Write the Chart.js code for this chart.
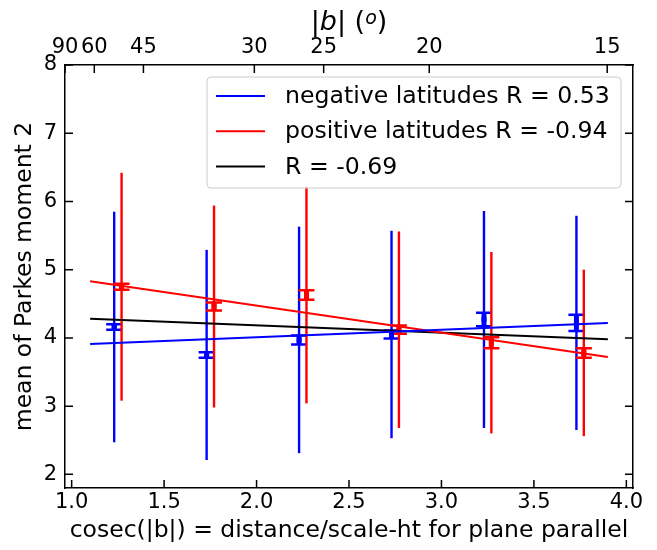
<!DOCTYPE html>
<html>
<head>
<meta charset="utf-8">
<script src="https://cdn.jsdelivr.net/npm/chart.js@4.4.0/dist/chart.umd.min.js"></script>
<style>
  html, body { margin: 0; padding: 0; background: #fff; }
</style>
</head>
<body>
<canvas id="chart" width="657" height="550"></canvas>
<script>
// negative latitudes: positions, means, spread (thin bar) and error of mean (thick bar)
const negX = [1.23, 1.73, 2.23, 2.73, 3.23, 3.73];
const negMean = [4.16, 3.75, 3.97, 4.05, 4.27, 4.22];
const negStd = [1.69, 1.54, 1.66, 1.52, 1.59, 1.57];
const negSem = [0.04, 0.04, 0.065, 0.06, 0.1, 0.12];

// positive latitudes
const posX = [1.27, 1.77, 2.27, 2.77, 3.27, 3.77];
const posMean = [4.75, 4.46, 4.63, 4.12, 3.93, 3.78];
const posStd = [1.67, 1.48, 1.59, 1.44, 1.33, 1.22];
const posSem = [0.045, 0.06, 0.07, 0.06, 0.08, 0.07];

// fit lines
const fitX = [1.1, 3.9];
const negFit = [3.91, 4.22];
const posFit = [4.83, 3.72];
const allFit = [4.28, 3.98];

const legendLabels = ['negative latitudes R = 0.53', 'positive latitudes R = -0.94', 'R = -0.69'];

// ticks
const xTicks = [1.0, 1.5, 2.0, 2.5, 3.0, 3.5, 4.0];
const yTicks = [2, 3, 4, 5, 6, 7, 8];
const topDegrees = [90, 60, 45, 30, 25, 20, 15];

const FONT = 'DejaVu Sans';
const BLUE = 'rgb(0, 0, 255)';
const RED = 'rgb(255, 0, 0)';
const BLACK = 'rgb(0, 0, 0)';

function pts(xs, ys) {
  return xs.map((x, i) => ({ x: x, y: ys[i] }));
}

// error bars: thin = spread, thick with caps = error of mean
const errorBars = {
  id: 'errorBars',
  beforeDatasetsDraw(chart) {
    const c = chart.ctx;
    const xs = chart.scales.x, ys = chart.scales.y;
    chart.data.datasets.forEach(ds => {
      if (!ds.errStd) return;
      c.save();
      c.strokeStyle = ds.backgroundColor;
      ds.data.forEach((p, i) => {
        const px = xs.getPixelForValue(p.x);
        // thin
        c.lineWidth = 2.4;
        c.beginPath();
        c.moveTo(px, ys.getPixelForValue(p.y + ds.errStd[i]));
        c.lineTo(px, ys.getPixelForValue(p.y - ds.errStd[i]));
        c.stroke();
        // thick
        const t = ys.getPixelForValue(p.y + ds.errSem[i]);
        const b = ys.getPixelForValue(p.y - ds.errSem[i]);
        c.lineWidth = 5;
        c.beginPath();
        c.moveTo(px, t);
        c.lineTo(px, b);
        c.stroke();
        c.lineWidth = 2.5;
        c.beginPath();
        c.moveTo(px - 8, t); c.lineTo(px + 8, t);
        c.moveTo(px - 8, b); c.lineTo(px + 8, b);
        c.stroke();
      });
      c.restore();
    });
  }
};

// inward tick marks on all four sides
const tickMarks = {
  id: 'tickMarks',
  afterDatasetsDraw(chart) {
    const c = chart.ctx;
    const a = chart.chartArea;
    const L = 8;
    c.save();
    c.strokeStyle = '#000';
    c.lineWidth = 1.5;
    c.beginPath();
    chart.scales.x.ticks.forEach(t => {
      const p = chart.scales.x.getPixelForValue(t.value);
      c.moveTo(p, a.bottom); c.lineTo(p, a.bottom - L);
    });
    chart.scales.x2.ticks.forEach(t => {
      const p = chart.scales.x2.getPixelForValue(t.value);
      c.moveTo(p, a.top); c.lineTo(p, a.top + L);
    });
    chart.scales.y.ticks.forEach(t => {
      const p = chart.scales.y.getPixelForValue(t.value);
      c.moveTo(a.left, p); c.lineTo(a.left + L, p);
      c.moveTo(a.right, p); c.lineTo(a.right - L, p);
    });
    c.stroke();
    c.restore();
  }
};

// top title |b| (o)
const topTitle = {
  id: 'topTitle',
  afterDraw(chart) {
    const c = chart.ctx;
    const a = chart.chartArea;
    const parts = [
      { t: '|', f: '27px ' + FONT, dy: 0 },
      { t: 'b', f: 'italic 27px ' + FONT, dy: 0 },
      { t: '|', f: '27px ' + FONT, dy: 0 },
      { t: ' (', f: '27px ' + FONT, dy: 0 },
      { t: 'o', f: 'italic 19px ' + FONT, dy: -6 },
      { t: ')', f: '27px ' + FONT, dy: 0 }
    ];
    c.save();
    c.fillStyle = '#000';
    c.textBaseline = 'alphabetic';
    let w = 0;
    parts.forEach(p => { c.font = p.f; p.w = c.measureText(p.t).width; w += p.w; });
    let x = (a.left + a.right) / 2 - w / 2;
    parts.forEach(p => {
      c.font = p.f;
      c.fillText(p.t, x, 30 + p.dy);
      x += p.w;
    });
    c.restore();
  }
};

// legend box in upper right
const boxLegend = {
  id: 'boxLegend',
  afterDraw(chart) {
    const c = chart.ctx;
    const items = chart.data.datasets.filter(d => d.inLegend);
    const bx = 207, by = 77, bw = 414, bh = 111;
    c.save();
    c.beginPath();
    c.roundRect(bx, by, bw, bh, 4);
    c.fillStyle = 'rgba(255,255,255,0.8)';
    c.fill();
    c.strokeStyle = '#cccccc';
    c.lineWidth = 1;
    c.stroke();
    c.font = '23.6px ' + FONT;
    c.textBaseline = 'middle';
    items.forEach((d, i) => {
      const y = 96 + i * 35.3;
      c.strokeStyle = d.borderColor;
      c.lineWidth = 2;
      c.beginPath();
      c.moveTo(216, y); c.lineTo(265, y);
      c.stroke();
      c.fillStyle = '#000';
      c.fillText(d.label, 285, y + 1);
    });
    c.restore();
  }
};

const fitLine = (label, ys, color) => ({
  label: label,
  data: pts(fitX, ys),
  showLine: true,
  borderColor: color,
  backgroundColor: color,
  borderWidth: 2,
  pointRadius: 0,
  order: 0,
  inLegend: true
});

const meanPoints = (xs, ys, std, sem, color) => ({
  label: '',
  data: pts(xs, ys),
  pointStyle: 'rect',
  pointRadius: 3.5,
  backgroundColor: color,
  borderColor: color,
  borderWidth: 0,
  order: 1,
  errStd: std,
  errSem: sem
});

const axisFont = { family: FONT, size: 21 };
const titleFont = { family: FONT, size: 23.5 };
const noGrid = { display: false, drawTicks: false };
const frame = { display: true, color: '#000', width: 1.5 };

new Chart(document.getElementById('chart'), {
  type: 'scatter',
  data: {
    datasets: [
      fitLine(legendLabels[0], negFit, BLUE),
      fitLine(legendLabels[1], posFit, RED),
      fitLine(legendLabels[2], allFit, BLACK),
      meanPoints(negX, negMean, negStd, negSem, BLUE),
      meanPoints(posX, posMean, posStd, posSem, RED)
    ]
  },
  options: {
    responsive: false,
    animation: false,
    layout: { padding: 0 },
    plugins: { legend: { display: false }, tooltip: { enabled: false } },
    scales: {
      x: {
        type: 'linear', position: 'bottom', min: 0.964, max: 4.036,
        afterBuildTicks: s => { s.ticks = xTicks.map(v => ({ value: v })); },
        ticks: { color: '#000', font: axisFont, padding: 2, maxRotation: 0, autoSkip: false,
          callback: v => v.toFixed(1) },
        grid: noGrid, border: frame,
        title: { display: true, text: 'cosec(|b|) = distance/scale-ht for plane parallel',
          color: '#000', font: titleFont, padding: { top: 0, bottom: 5 } },
        afterFit: s => { s.height = 62; }
      },
      x2: {
        type: 'linear', position: 'top', min: 1.0, max: 4.0,
        afterBuildTicks: s => { s.ticks = topDegrees.map(d => ({ value: 1 / Math.sin(d * Math.PI / 180) })); },
        ticks: { color: '#000', font: axisFont, padding: 5, maxRotation: 0, autoSkip: false,
          callback: (v, i) => String(topDegrees[i]) },
        grid: noGrid, border: frame,
        afterFit: s => { s.height = 65; }
      },
      y: {
        type: 'linear', position: 'left', min: 1.8, max: 8,
        afterBuildTicks: s => { s.ticks = yTicks.map(v => ({ value: v })); },
        ticks: { color: '#000', font: axisFont, padding: 8, callback: v => String(v) },
        grid: noGrid, border: frame,
        title: { display: true, text: 'mean of Parkes moment 2', color: '#000',
          font: titleFont, padding: { top: 11, bottom: 0 } },
        afterFit: s => { s.width = 65; }
      },
      y2: {
        type: 'linear', position: 'right', min: 1.8, max: 8,
        afterBuildTicks: s => { s.ticks = yTicks.map(v => ({ value: v })); },
        ticks: { display: false },
        grid: noGrid, border: frame,
        afterFit: s => { s.width = 24; }
      }
    }
  },
  plugins: [errorBars, tickMarks, topTitle, boxLegend]
});
</script>
</body>
</html>
